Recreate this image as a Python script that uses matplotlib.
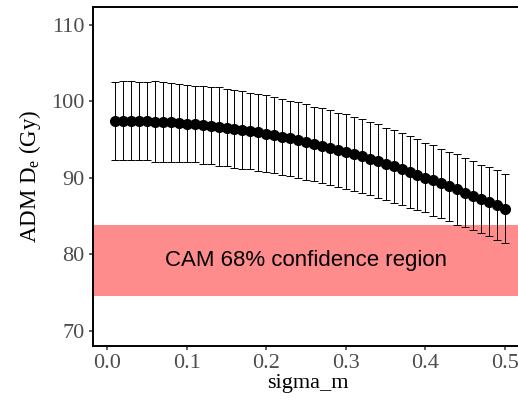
import matplotlib
matplotlib.use("Agg")
import matplotlib.pyplot as plt

# sigma_m values and the ADM De estimates with their standard errors
sigma_m = [0.01, 0.02, 0.03, 0.04, 0.05, 0.06, 0.07, 0.08, 0.09, 0.10,
           0.11, 0.12, 0.13, 0.14, 0.15, 0.16, 0.17, 0.18, 0.19, 0.20,
           0.21, 0.22, 0.23, 0.24, 0.25, 0.26, 0.27, 0.28, 0.29, 0.30,
           0.31, 0.32, 0.33, 0.34, 0.35, 0.36, 0.37, 0.38, 0.39, 0.40,
           0.41, 0.42, 0.43, 0.44, 0.45, 0.46, 0.47, 0.48, 0.49, 0.50]
adm_de = [97.50, 97.49, 97.47, 97.45, 97.42, 97.38, 97.33, 97.27, 97.20, 97.12,
          97.03, 96.93, 96.82, 96.70, 96.57, 96.43, 96.28, 96.12, 95.95, 95.77,
          95.58, 95.38, 95.17, 94.95, 94.72, 94.48, 94.23, 93.97, 93.70, 93.42,
          93.13, 92.83, 92.52, 92.20, 91.87, 91.53, 91.18, 90.82, 90.45, 90.05,
          89.68, 89.30, 88.90, 88.50, 88.10, 87.70, 87.30, 86.88, 86.45, 86.00]
adm_se = [5.10, 5.20, 5.15, 5.05, 5.10, 5.25, 5.20, 5.15, 5.10, 5.05,
          5.00, 5.10, 5.05, 5.15, 5.00, 5.10, 5.05, 4.95, 5.00, 5.05,
          4.95, 5.00, 4.90, 4.95, 5.00, 4.85, 4.90, 4.95, 4.85, 4.90,
          4.80, 4.85, 4.75, 4.80, 4.70, 4.75, 4.65, 4.70, 4.60, 4.55,
          4.60, 4.50, 4.55, 4.60, 4.50, 4.55, 4.45, 4.50, 4.55, 4.55]

# CAM 68% confidence band
cam_low = 74.56
cam_high = 83.8
cam_label = "CAM 68% confidence region"

serif = ["Liberation Serif", "DejaVu Serif"]

fig = plt.figure(figsize=(5.18, 4.0), dpi=100)
ax = fig.add_axes([0.179, 0.135, 0.83, 0.8475])

ax.axhspan(cam_low, cam_high, color="red", alpha=0.45, lw=0, zorder=1)
ax.text(0.25, (cam_low + cam_high) / 2, cam_label, ha="center", va="center",
        fontsize=16, family=["Liberation Sans", "DejaVu Sans"], color="black", zorder=2)

ax.errorbar(sigma_m, adm_de, yerr=adm_se, fmt="none", ecolor="black",
            elinewidth=0.7, capsize=2.6, capthick=0.7, zorder=3)
ax.plot(sigma_m, adm_de, "o-", color="black", ms=7.0, lw=1.5, zorder=4)

ax.set_xlim(-0.0182, 0.5222)
ax.set_ylim(68.04, 112.35)
ax.set_xticks([0.0, 0.1, 0.2, 0.3, 0.4, 0.5])
ax.set_yticks([70, 80, 90, 100, 110])
ax.set_xticklabels(["0.0", "0.1", "0.2", "0.3", "0.4", "0.5"])

for side in ["left", "bottom", "top"]:
    ax.spines[side].set_linewidth(1.4)
    ax.spines[side].set_color("black")
ax.spines["right"].set_visible(False)

ax.tick_params(length=3.2, width=1.1, color="#333333", labelcolor="#4D4D4D",
               labelsize=16, pad=2.5)
for lab in ax.get_xticklabels() + ax.get_yticklabels():
    lab.set_family(serif)

ax.set_xlabel("sigma_m", fontsize=16, family=serif, labelpad=1)
ax.set_ylabel(r"ADM D$_\mathregular{e}$ (Gy)", fontsize=16.5, family=serif, labelpad=6)

fig.savefig("out.png", dpi=100)
